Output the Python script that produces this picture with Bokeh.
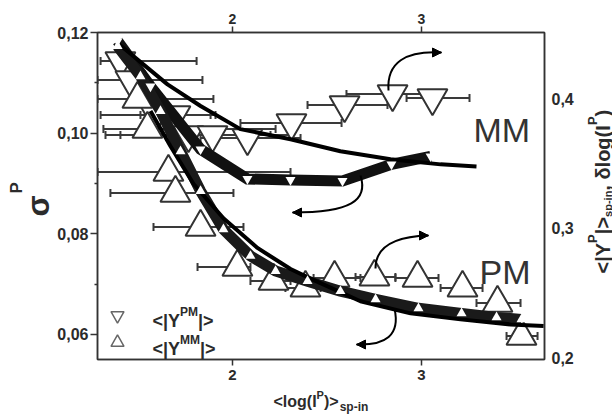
import numpy as np
from bokeh.plotting import figure
from bokeh.layouts import row, column
from bokeh.core.properties import value
from bokeh.models import (Range1d, LinearAxis, FixedTicker, CustomJSTickFormatter,
                          Label, Arrow, NormalHead)
from bokeh.embed import file_html
from bokeh.resources import INLINE

# ---------------- data ----------------
x_ticks = [2, 3]
y_left_ticks = [0.06, 0.08, 0.10, 0.12]
y_left_minor = [0.07, 0.09, 0.11]
y_right_ticks = [0.2, 0.3, 0.4]

# sigma^P, upper thick band (small down-triangles, left axis)
band_up_x = [1.392, 1.566, 1.831, 2.079, 2.307, 2.582, 2.841, 3.048]
band_up_sigma = [0.1183, 0.1093, 0.0968, 0.0909, 0.0907, 0.0905, 0.0938, 0.0954]

# sigma^P, lower thick band (small up-triangles, left axis)
band_lo_x = [1.392, 1.513, 1.619, 1.725, 1.831, 1.952, 2.095, 2.228, 2.397,
             2.571, 2.757, 2.984, 3.212, 3.397, 3.529]
band_lo_sigma = [0.1173, 0.1113, 0.1044, 0.0964, 0.0885, 0.0809, 0.0756, 0.0726,
                 0.0706, 0.0686, 0.0670, 0.0652, 0.0642, 0.0634, 0.0630]

# fitted curves (left axis)
fit_up_x = [1.392, 1.656, 1.831, 2.042, 2.307, 2.571, 2.836, 3.101, 3.291]
fit_up_sigma = [0.1179, 0.1097, 0.1054, 0.1008, 0.0988, 0.0964, 0.0948, 0.0938, 0.0934]
fit_lo_x = [1.566, 1.672, 1.794, 1.952, 2.132, 2.307, 2.413, 2.677, 2.942,
            3.206, 3.471, 3.646]
fit_lo_sigma = [0.1044, 0.0974, 0.0899, 0.0831, 0.0772, 0.0730, 0.0711, 0.0666,
                0.0642, 0.0630, 0.0620, 0.0617]

# large open down-triangles with horizontal error bars (right axis)
dn_x = [1.407, 1.460, 1.593, 1.698, 1.767, 1.894, 2.079, 2.312, 2.593, 2.847, 3.058]
dn_val = [0.4290, 0.4143, 0.3873, 0.3873, 0.3718, 0.3718, 0.3695, 0.3811, 0.3950,
          0.4035, 0.4004]
dn_xlo = [1.302, 1.286, 1.302, 1.513, 1.328, 1.407, 1.831, 2.042, 2.397, 2.603, 2.921]
dn_xhi = [1.810, 1.841, 1.910, 1.884, 2.201, 2.307, 2.360, 2.577, 2.820, 3.101, 3.254]

# large open up-triangles with horizontal error bars (right axis)
up_x = [1.497, 1.550, 1.661, 1.698, 1.831, 2.026, 2.217, 2.386, 2.540, 2.751,
        2.979, 3.217, 3.402, 3.529]
up_val = [0.3996, 0.3764, 0.3432, 0.3270, 0.3008, 0.2699, 0.2591, 0.2537, 0.2614,
          0.2622, 0.2614, 0.2537, 0.2421, 0.2166]
up_xlo = [1.286, 1.317, 1.286, 1.354, 1.582, 1.815, 2.095, 2.280, 2.429, 2.651,
          2.862, 3.101, 3.291, 3.450]
up_xhi = [1.899, 2.228, 2.307, 2.005, 2.058, 2.095, 2.307, 2.466, 2.677, 2.862,
          3.090, 3.323, 3.524, 3.614]

legend_sup = ["PM", "MM"]
region_labels = ["MM", "PM"]

# ---------------- layout ----------------
X0, X1 = 1.2857, 3.6508
YL0, YL1 = 0.05503, 0.12
YR0, YR1 = 0.19846, 0.45097
# frame in picture pixels
FL, FR, FT, FB = 97, 544, 32, 359
PAGE_W, PAGE_H = 612, 420
MAIN_W, MAIN_H = 580, 386      # main figure; strips fill the rest

FONT = "Liberation Sans"
INK = "#2b2b2b"


def dx(px):
    return X0 + (px - FL) / (FR - FL) * (X1 - X0)


def dy(py):
    return YL0 + (FB - py) / (FB - FT) * (YL1 - YL0)


W = {'<': .584, '>': .584, '|': .280, 'l': .278, 'o': .611, 'g': .611, '(': .333,
     ')': .333, 'I': .278, 'P': .667, 'M': .833, 'Y': .667, 's': .556, 'p': .611,
     '-': .333, 'i': .278, 'n': .611, ',': .278, ' ': .278, 'δ': .611, 'σ': .611}


def tw(s, size):
    return sum(W.get(c, 0.6) for c in s) * size


p = figure(width=MAIN_W, height=MAIN_H, x_range=Range1d(X0, X1), y_range=Range1d(YL0, YL1),
           output_backend="svg", toolbar_location=None,
           min_border_left=FL, min_border_right=MAIN_W - FR, min_border_top=FT,
           min_border_bottom=MAIN_H - FB,
           background_fill_color="white", border_fill_color="white",
           outline_line_color="#333333", outline_line_width=1.5)
p.extra_y_ranges = {"right": Range1d(YR0, YR1)}
p.grid.visible = False


def style_axis(ax, size, tick_out, standoff):
    ax.axis_line_color = "#333333"
    ax.axis_line_width = 1.5
    ax.major_tick_line_color = "#333333"
    ax.major_tick_line_width = 1.5
    ax.minor_tick_line_color = "#333333"
    ax.minor_tick_line_width = 1.5
    ax.major_tick_out = tick_out
    ax.major_tick_in = 0
    ax.minor_tick_out = 3
    ax.minor_tick_in = 0
    ax.major_label_text_font = FONT
    ax.major_label_text_font_style = "bold"
    ax.major_label_text_font_size = f"{size}px"
    ax.major_label_text_color = INK
    ax.major_label_standoff = standoff


xb = p.xaxis[0]
xb.ticker = FixedTicker(ticks=x_ticks, minor_ticks=[])
style_axis(xb, 15, 6, 4)

yl = p.yaxis[0]
yl.ticker = FixedTicker(ticks=y_left_ticks, minor_ticks=y_left_minor)
yl.formatter = CustomJSTickFormatter(code="return tick.toFixed(2).replace('.', ',')")
style_axis(yl, 16, 7, 2)

xt = LinearAxis(ticker=FixedTicker(ticks=x_ticks, minor_ticks=[]))
style_axis(xt, 14, 6, 3)
p.add_layout(xt, "above")

yr = LinearAxis(y_range_name="right",
                ticker=FixedTicker(ticks=y_right_ticks, minor_ticks=[]),
                formatter=CustomJSTickFormatter(code="return tick.toFixed(1).replace('.', ',')"))
style_axis(yr, 16, 0, 7)
yr.minor_tick_out = 0
p.add_layout(yr, "right")

# ---------------- error bars ----------------
for xs, ys, lo, hi in [(dn_x, dn_val, dn_xlo, dn_xhi), (up_x, up_val, up_xlo, up_xhi)]:
    p.segment(x0=lo, y0=ys, x1=hi, y1=ys, y_range_name="right",
              line_color="#3a3a3a", line_width=2)
    p.scatter(x=lo + hi, y=ys + ys, marker="dash", angle=np.pi / 2, size=8,
              line_color="#3a3a3a", line_width=2, y_range_name="right")

# large open triangles
p.scatter(dn_x, dn_val, marker="inverted_triangle", size=30, fill_color="white",
          line_color="#333333", line_width=2, y_range_name="right")
p.scatter(up_x, up_val, marker="triangle", size=30, fill_color="white",
          line_color="#333333", line_width=2, y_range_name="right")

# thick bands
p.line(band_up_x, band_up_sigma, line_width=11, line_color="#111111", line_join="miter")
p.line(band_lo_x, band_lo_sigma, line_width=11, line_color="#1a1a1a", line_join="miter")

# fits
p.line(fit_up_x, fit_up_sigma, line_width=4, line_color="black", line_join="round")
p.line(fit_lo_x, fit_lo_sigma, line_width=4, line_color="black", line_join="round")

# small white markers on bands
p.scatter(band_up_x, band_up_sigma, marker="inverted_triangle", size=10,
          fill_color="white", line_color=None)
p.scatter(band_lo_x, band_lo_sigma, marker="triangle", size=10,
          fill_color="white", line_color=None)

# ---------------- curved arrows (picture pixel layout) ----------------
arrows = [
    # start, c0, c1, end, head direction (+1 right, -1 left)
    ((388, 90), (386, 62), (405, 50), (441, 52), 1),
    ((360, 175), (368, 200), (350, 212), (292, 212), -1),
    ((375, 268), (375, 248), (392, 236), (428, 235), 1),
    ((394, 308), (400, 335), (385, 345), (356, 344), -1),
]
for s, c0, c1, e, d in arrows:
    p.bezier(x0=[dx(s[0])], y0=[dy(s[1])], x1=[dx(e[0])], y1=[dy(e[1])],
             cx0=[dx(c0[0])], cy0=[dy(c0[1])], cx1=[dx(c1[0])], cy1=[dy(c1[1])],
             line_color="black", line_width=2)
    p.add_layout(Arrow(end=NormalHead(size=9, fill_color="black", line_color="black"),
                       x_start=dx(e[0] - 6 * d), y_start=dy(e[1]),
                       x_end=dx(e[0]), y_end=dy(e[1]),
                       line_color="black", line_width=2))


# ---------------- texts in the main figure ----------------
def txt(s, px, py, size, angle=0.0, style="bold", color=INK, place="center"):
    lab = Label(x=dx(px), y=dy(py), text=s, angle=angle,
                text_font=FONT, text_font_style=style,
                text_font_size=f"{size}px", text_color=color,
                text_align="left", text_baseline="alphabetic")
    p.add_layout(lab, place)


txt(region_labels[0], 473, 129, 34, style="normal", color="#333333")
txt(region_labels[1], 479, 271, 34, style="normal", color="#333333")

# left axis title: sigma^P (rotated), in the left side panel
txt("σ", 38, 216, 31, angle=np.pi / 2, place="left")
txt("P", 16, 193, 17, angle=np.pi / 2, place="left")

# legend
key_px = 117
for i, (sup, mk) in enumerate(zip(legend_sup, ["inverted_triangle", "triangle"])):
    ky = 315 + 27 * i
    p.scatter([dx(key_px)], [dy(ky)], marker=mk, size=13, fill_color="white",
              line_color="#666666", line_width=1.5)
    base_y = 320 + 28 * i
    lx = 152
    txt("<|Y", lx, base_y, 18); lx += tw("<|Y", 18)
    txt(sup, lx, base_y - 9, 12); lx += tw(sup, 12)
    txt("|>", lx, base_y, 18)


# ---------------- title strips (page pixel coordinates) ----------------
def strip(x0, y0, w, h, bl, br, bt, bb):
    # frame of the strip covers page pixels [x0+bl, x0+w-br] x [y0+bt, y0+h-bb]
    f = figure(width=w, height=h,
               x_range=Range1d(x0 + bl, x0 + w - br),
               y_range=Range1d(-(y0 + h - bb), -(y0 + bt)),
               output_backend="svg", toolbar_location=None,
               x_axis_location=None, y_axis_location=None,
               min_border_left=bl, min_border_right=br,
               min_border_top=bt, min_border_bottom=bb,
               outline_line_color=None,
               background_fill_color="white", border_fill_color="white")
    f.grid.visible = False
    return f


def stext(f, s, px, py, size, angle=0.0):
    f.text(x=[px], y=[-py], text=[s], angle=angle, text_font=value(FONT),
           text_font_style="bold", text_font_size=value(f"{size}px"),
           text_color=INK, text_align="left", text_baseline="alphabetic")


# bottom title: <log(I^P)>_sp-in  (frame aligned with the main frame)
bot = strip(0, MAIN_H, MAIN_W, PAGE_H - MAIN_H, FL, MAIN_W - FR, 0, 0)
bx = 273
stext(bot, "<log(I", bx, 401, 16); bx += tw("<log(I", 16)
stext(bot, "P", bx, 394, 11); bx += tw("P", 11)
stext(bot, ")>", bx, 401, 16); bx += tw(")>", 16) + 1
stext(bot, "sp-in", bx, 406, 12)

# right title: <|Y^P|>_sp-in, δlog(I^P) (rotated)
rgt = strip(MAIN_W, 0, PAGE_W - MAIN_W, PAGE_H, 0, 0, FT, PAGE_H - FB)
ry = 273
base = 602
rot = np.pi / 2
stext(rgt, "<|Y", base, ry, 20, rot); ry -= tw("<|Y", 20)
stext(rgt, "P", base - 10, ry, 13, rot); ry -= tw("P", 13)
stext(rgt, "|>", base, ry, 20, rot); ry -= tw("|>", 20)
stext(rgt, "sp-in", base + 5, ry, 11, rot); ry -= tw("sp-in", 11)
stext(rgt, ", δlog(I", base, ry, 20, rot); ry -= tw(", δlog(I", 20)
stext(rgt, "P", base - 10, ry, 13, rot); ry -= tw("P", 13)
stext(rgt, ")", base, ry, 20, rot)

layout = row(column(p, bot, spacing=0), rgt, spacing=0)
open("out.html", "w").write(file_html(layout, INLINE))
